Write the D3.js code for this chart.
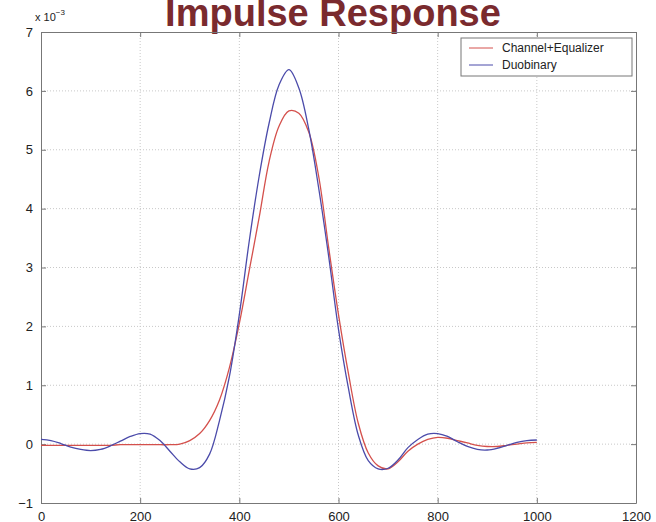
<!DOCTYPE html>
<html>
<head>
<meta charset="utf-8">
<script src="https://cdn.jsdelivr.net/npm/d3@7"></script>
<style>
  body { margin: 0; background: #fff; }
  svg { display: block; }
  .tick text { font-family: "Liberation Sans", Arial, sans-serif; font-size: 13px; fill: #222; }
</style>
</head>
<body>
<script>
// sample index (0..1000 step 20)
var samples = d3.range(0, 1001, 20);

// values in units of 1e-3
var equalizer = [-0.02, -0.02, -0.02, -0.02, -0.02, -0.02, -0.02, -0.02, -0.01, -0.01,
  -0.01, -0.01, -0.01, -0.01, 0.0, 0.06, 0.18, 0.4, 0.75, 1.3,
  2.05, 2.95, 3.85, 4.8, 5.4, 5.66, 5.62, 5.3, 4.55, 3.35,
  2.2, 1.2, 0.35, -0.15, -0.37, -0.42, -0.3, -0.12, 0.0, 0.08,
  0.115, 0.1, 0.06, 0.02, -0.02, -0.04, -0.04, -0.02, 0.0, 0.02, 0.03];

var duobinary = [0.08, 0.06, 0.01, -0.05, -0.09, -0.11, -0.09, -0.03, 0.05, 0.13,
  0.18, 0.17, 0.06, -0.12, -0.30, -0.42, -0.40, -0.17, 0.4, 1.15,
  2.2, 3.45, 4.55, 5.45, 6.1, 6.36, 6.05, 5.35, 4.35, 3.2,
  1.95, 0.95, 0.15, -0.28, -0.42, -0.41, -0.27, -0.06, 0.08, 0.17,
  0.18, 0.13, 0.04, -0.04, -0.09, -0.10, -0.07, -0.02, 0.03, 0.06, 0.07];

var xTicks = [0, 200, 400, 600, 800, 1000, 1200];
var yTicks = [-1, 0, 1, 2, 3, 4, 5, 6, 7];
var seriesNames = ["Channel+Equalizer", "Duobinary"];
var seriesColors = ["#d4504c", "#4b4baa"];

var w = 656, h = 522;
var padL = 41, padR = 636, padT = 32, padB = 503;

var svg = d3.select("body").append("svg")
  .attr("width", w)
  .attr("height", h);

var xScale = d3.scaleLinear().domain([0, 1200]).range([padL, padR]);
var yScale = d3.scaleLinear().domain([-1, 7]).range([padB, padT]);

// title
svg.append("text")
  .attr("x", 333)
  .attr("y", 26)
  .attr("text-anchor", "middle")
  .attr("font-family", "'Liberation Sans', Arial, sans-serif")
  .attr("font-weight", "bold")
  .attr("font-size", 38)
  .attr("fill", "#7a2a2e")
  .text("Impulse Response");

// grid
var grid = svg.append("g").attr("stroke", "#c8c8c8").attr("stroke-dasharray", "1,2");
grid.selectAll("line.gx")
  .data(xTicks.slice(1, -1))
  .enter().append("line")
  .attr("x1", function(d) { return xScale(d); })
  .attr("x2", function(d) { return xScale(d); })
  .attr("y1", padT).attr("y2", padB);
grid.selectAll("line.gy")
  .data(yTicks.slice(1, -1))
  .enter().append("line")
  .attr("y1", function(d) { return yScale(d); })
  .attr("y2", function(d) { return yScale(d); })
  .attr("x1", padL).attr("x2", padR);

// axes, matlab style ticks pointing inward
var fmt = function(d) { return d < 0 ? "\u2212" + Math.abs(d) : d; };

var xAxis = d3.axisBottom(xScale).tickValues(xTicks).tickSizeInner(-5).tickSizeOuter(0)
  .tickPadding(9).tickFormat(d3.format("d"));
var yAxis = d3.axisLeft(yScale).tickValues(yTicks).tickSizeInner(-5).tickSizeOuter(0)
  .tickPadding(8).tickFormat(fmt);

svg.append("g")
  .attr("transform", "translate(0," + padB + ")")
  .call(xAxis);
svg.append("g")
  .attr("transform", "translate(" + padL + ",0)")
  .call(yAxis);
svg.append("g")
  .attr("transform", "translate(0," + padT + ")")
  .call(d3.axisTop(xScale).tickValues(xTicks).tickSizeInner(-5).tickSizeOuter(0).tickFormat(""));
svg.append("g")
  .attr("transform", "translate(" + padR + ",0)")
  .call(d3.axisRight(yScale).tickValues(yTicks).tickSizeInner(-5).tickSizeOuter(0).tickFormat(""));

svg.selectAll(".domain").attr("stroke", "#777");
svg.selectAll(".tick line").attr("stroke", "#777");

// exponent label
var ex = svg.append("text")
  .attr("x", 35).attr("y", 21)
  .attr("font-family", "'Liberation Sans', Arial, sans-serif")
  .attr("font-size", 11)
  .attr("fill", "#222");
ex.append("tspan").text("x 10");
ex.append("tspan").attr("dy", -6).attr("font-size", 8).text("\u22123");

// curves
var line = d3.line()
  .x(function(d, i) { return xScale(samples[i]); })
  .y(function(d) { return yScale(d); })
  .curve(d3.curveCatmullRom.alpha(0.5));

[equalizer, duobinary].forEach(function(s, k) {
  svg.append("path")
    .attr("d", line(s))
    .attr("fill", "none")
    .attr("stroke", seriesColors[k])
    .attr("stroke-width", 1.3);
});

// legend
var lg = svg.append("g");
lg.append("rect")
  .attr("x", 461).attr("y", 38)
  .attr("width", 171).attr("height", 38)
  .attr("fill", "#fff")
  .attr("stroke", "#777");
seriesNames.forEach(function(name, i) {
  var y = 48 + i * 17;
  lg.append("line")
    .attr("x1", 469).attr("x2", 493)
    .attr("y1", y).attr("y2", y)
    .attr("stroke", seriesColors[i]);
  lg.append("text")
    .attr("x", 502).attr("y", y + 4)
    .attr("font-family", "'Liberation Sans', Arial, sans-serif")
    .attr("font-size", 12)
    .attr("fill", "#222")
    .text(name);
});
</script>
</body>
</html>
